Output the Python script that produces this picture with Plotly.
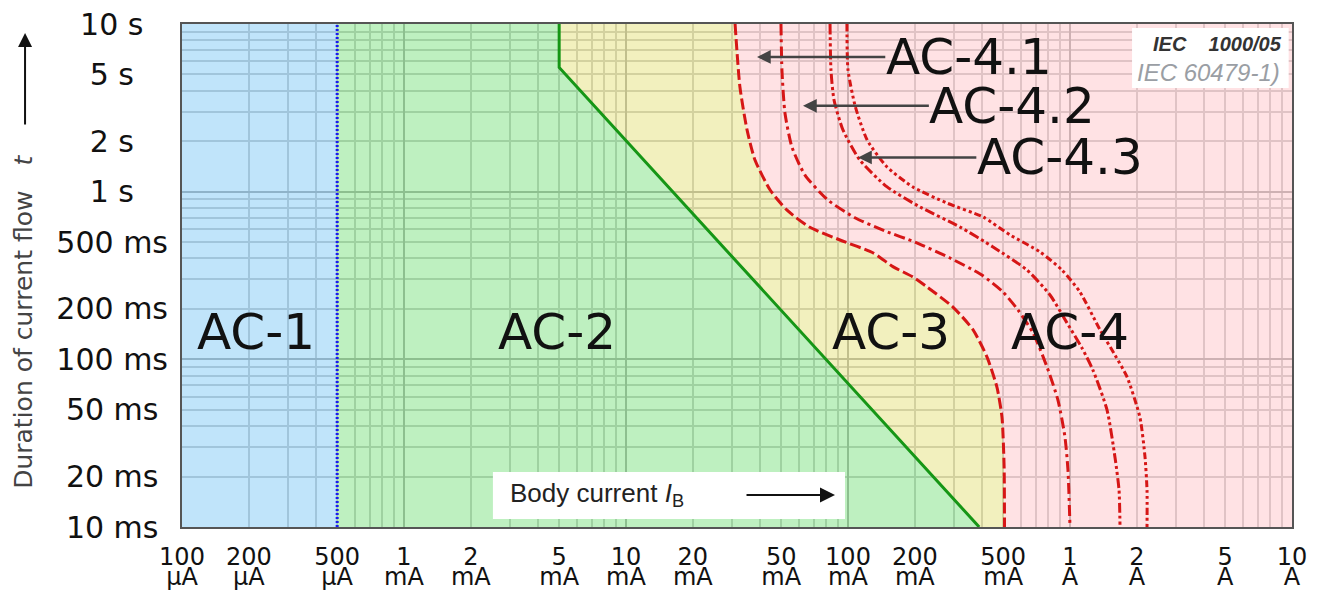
import numpy as np
import plotly.graph_objects as go

# ---------------- data (body current in mA, duration of current flow in ms) -------------
CURRENT_RANGE_MA = [0.1, 10000]
DURATION_RANGE_MS = [10, 10000]

X_TICK_VALUES = [0.1, 0.2, 0.5, 1, 2, 5, 10, 20, 50, 100, 200, 500, 1000, 2000, 5000, 10000]
X_TICK_NUMBERS = ["100", "200", "500", "1", "2", "5", "10", "20", "50", "100", "200", "500",
                  "1", "2", "5", "10"]
X_TICK_UNITS = ["µA", "µA", "µA", "mA", "mA", "mA", "mA", "mA", "mA", "mA", "mA", "mA",
                "A", "A", "A", "A"]
Y_TICK_VALUES = [10, 20, 50, 100, 200, 500, 1000, 2000, 5000, 10000]
Y_TICK_LABELS = ["10 ms", "20 ms", "50 ms", "100 ms", "200 ms", "500 ms", "1 s", "2 s", "5 s", "10 s"]

# boundary a : AC-1 / AC-2
curve_a_ma = [0.5, 0.5]
curve_a_ms = [10, 10000]

# boundary b : AC-2 / AC-3
curve_b_ma = [5, 5, 390]
curve_b_ms = [10000, 5500, 10]

# curve c1 : AC-3 / AC-4
c1_ma = [31, 32.6, 35.1, 38.1, 44.6, 53, 67, 92, 130, 160, 196, 227, 297, 366, 423, 469, 494, 505, 507]
c1_ms = [10000, 4210, 2335, 1545, 1023, 778, 615, 515, 431, 356, 310, 270, 205, 150, 103, 68, 45, 22.8, 10]

# curve c2
c2_ma = [49.9, 50.4, 52, 55.9, 64, 81.2, 108, 147, 200, 288, 401, 499, 583, 681, 788, 883, 949, 979, 1000]
c2_ms = [10000, 5321, 2944, 1845, 1256, 891, 697, 582, 501, 402, 318, 252, 197, 144, 90, 57, 34.4, 21.9, 10]

# curve c3
c3_ma = [83, 83.8, 86.5, 94.9, 113, 150, 211, 320, 450, 640, 813, 969, 1132, 1270, 1468, 1595, 1663, 1680]
c3_ms = [10000, 5321, 3525, 2335, 1545, 1067, 811, 615, 468, 341, 242, 165, 117, 86, 50, 26, 16.6, 10]

# curve c4 (upper limit shown)
c4_ma = [98.9, 100, 108, 122, 150, 196, 279, 406, 537, 733, 920, 1109, 1365, 1595, 1807, 2066, 2178, 2223, 2223]
c4_ms = [10000, 5321, 3199, 2032, 1403, 1067, 855, 706, 552, 437, 341, 252, 150, 106, 78.5, 45, 26, 16.6, 10]

# zone labels
zone_names = ["AC-1", "AC-2", "AC-3", "AC-4"]
zone_label_ma = [0.215, 4.9, 156, 1000]
zone_label_ms = [146, 146, 146, 146]

# AC-4 sub-zone labels with arrows
sub_names = ["AC-4.1", "AC-4.2", "AC-4.3"]
sub_label_ma = [350, 550, 900]
sub_label_ms = [6357, 3250, 1600]
sub_head_ma = [38.9, 62.7, 111]
sub_head_ms = [6357, 3250, 1600]

# ---------------- styling ---------------------------------------------------------------
FONT = "DejaVu Sans"
MINOR_GRID = "rgb(150,150,150)"
MAJOR_GRID = "rgb(90,90,90)"
RED = "rgb(214,22,22)"


def log_grid(lo_exp, hi_exp, skip):
    vals = []
    for e in range(lo_exp, hi_exp):
        for k in range(2, 10):
            v = round(k * 10.0 ** e, 6)
            if v not in skip:
                vals.append(v)
    return vals


x_minor = log_grid(-1, 4, X_TICK_VALUES)
y_minor = log_grid(1, 4, Y_TICK_VALUES)
x_decades = [v for v in X_TICK_VALUES if abs(np.log10(v) - round(np.log10(v))) < 1e-9]
y_decades = [v for v in Y_TICK_VALUES if abs(np.log10(v) - round(np.log10(v))) < 1e-9]


def pad_label(lbl):
    # trailing spaces so right-aligned tick labels appear centred
    if lbl.endswith(" ms"):
        return lbl if len(lbl) == 6 else lbl + "\u00a0"
    return lbl + ("\u2002\u00a0" if len(lbl) == 4 else "\u2007\u2002")


y_tick_text = [pad_label(t) for t in Y_TICK_LABELS]

xr = CURRENT_RANGE_MA
yr = DURATION_RANGE_MS

fig = go.Figure()

# ---- zone fills (semi-transparent so the grid shows through) ----
fig.add_trace(go.Scatter(
    x=[xr[0], curve_a_ma[0], curve_a_ma[1], xr[0]],
    y=[yr[0], curve_a_ms[0], curve_a_ms[1], yr[1]],
    fill="toself", fillcolor="rgba(165,216,248,0.7)", mode="lines", line=dict(width=0),
    hoverinfo="skip", showlegend=False))
fig.add_trace(go.Scatter(
    x=curve_a_ma + curve_b_ma,
    y=curve_a_ms + curve_b_ms,
    fill="toself", fillcolor="rgba(162,234,165,0.7)", mode="lines", line=dict(width=0),
    hoverinfo="skip", showlegend=False))
fig.add_trace(go.Scatter(
    x=curve_b_ma + c1_ma[::-1],
    y=curve_b_ms + c1_ms[::-1],
    fill="toself", fillcolor="rgba(237,234,162,0.7)", mode="lines", line=dict(width=0),
    hoverinfo="skip", showlegend=False))
fig.add_trace(go.Scatter(
    x=c1_ma + [xr[1], xr[1]],
    y=c1_ms + [yr[0], yr[1]],
    fill="toself", fillcolor="rgba(255,213,216,0.7)", mode="lines", line=dict(width=0),
    hoverinfo="skip", showlegend=False))

# ---- boundary lines ----
fig.add_trace(go.Scatter(x=curve_a_ma, y=curve_a_ms, mode="lines",
                         line=dict(color="rgb(25,25,240)", width=3, dash="2px,2px"),
                         hoverinfo="skip", showlegend=False))
fig.add_trace(go.Scatter(x=curve_b_ma, y=curve_b_ms, mode="lines",
                         line=dict(color="rgb(22,150,22)", width=3),
                         hoverinfo="skip", showlegend=False))
for cx, cy, dash in [(c1_ma, c1_ms, "11px,4px"),
                     (c2_ma, c2_ms, "11px,4px,3px,4px"),
                     (c3_ma, c3_ms, "10px,3px,3px,3px,3px,3px"),
                     (c4_ma, c4_ms, "7px,3px,3px,3px,3px,3px,3px,3px")]:
    fig.add_trace(go.Scatter(x=cx, y=cy, mode="lines",
                             line=dict(color=RED, width=3, dash=dash, shape="spline", smoothing=0.6),
                             hoverinfo="skip", showlegend=False))

# dummy traces so the overlay axes (units row and decade grid) are drawn
fig.add_trace(go.Scatter(x=[None], y=[None], xaxis="x2", yaxis="y", showlegend=False, hoverinfo="skip"))
fig.add_trace(go.Scatter(x=[None], y=[None], xaxis="x3", yaxis="y2", showlegend=False, hoverinfo="skip"))

annotations = []
for name, mx, my in zip(zone_names, zone_label_ma, zone_label_ms):
    annotations.append(dict(text=name, x=np.log10(mx), y=np.log10(my), xref="x", yref="y",
                            showarrow=False, font=dict(family=FONT, size=50, color="#111")))
for name, lx, ly, hx, hy in zip(sub_names, sub_label_ma, sub_label_ms, sub_head_ma, sub_head_ms):
    annotations.append(dict(text=name, x=np.log10(hx), y=np.log10(hy), xref="x", yref="y",
                            ax=np.log10(lx), ay=np.log10(ly), axref="x", ayref="y",
                            showarrow=True, arrowhead=2, arrowsize=1.1, arrowwidth=2.5,
                            arrowcolor="#444", standoff=0, borderpad=0,
                            font=dict(family=FONT, size=50, color="#111")))

# y axis title with arrow
annotations.append(dict(text="Duration of current flow\u2003<i>t</i>", xref="paper", yref="paper",
                        x=-0.1423, y=0.408, textangle=-90, showarrow=False,
                        xanchor="center", yanchor="middle",
                        font=dict(family=FONT, size=25, color="#444")))
annotations.append(dict(text="", xref="paper", yref="paper", x=-0.1414, y=0.982,
                        ax=0, ay=93, axref="pixel", ayref="pixel", showarrow=True,
                        arrowhead=2, arrowsize=1.4, arrowwidth=2, arrowcolor="#111", standoff=0))

# body current label
annotations.append(dict(text="Body current <i>I</i><sub>B</sub>", xref="paper", yref="paper",
                        x=0.2937, y=0.0656, xanchor="left", yanchor="middle", showarrow=False,
                        font=dict(family="Liberation Sans", size=26, color="#222")))
annotations.append(dict(text="", xref="paper", yref="paper", x=0.5883, y=0.0636,
                        ax=-90, ay=0, axref="pixel", ayref="pixel", showarrow=True,
                        arrowhead=2, arrowsize=1.5, arrowwidth=2, arrowcolor="#111", standoff=0))

# IEC notice
annotations.append(dict(text="<b><i>IEC\u00a0\u00a0\u00a0\u00a01000/05</i></b>", xref="paper", yref="paper",
                        x=0.9928, y=0.960, xanchor="right", yanchor="middle", showarrow=False,
                        font=dict(family="Liberation Sans", size=20, color="#333")))
annotations.append(dict(text="<i>IEC 60479-1)</i>", xref="paper", yref="paper",
                        x=0.8586, y=0.9026, xanchor="left", yanchor="middle", showarrow=False,
                        font=dict(family="Liberation Sans", size=24, color="#9a9ea4")))

shapes = [
    dict(type="rect", xref="paper", yref="paper", x0=0.2801, x1=0.5973, y0=0.0159, y1=0.1093,
         fillcolor="white", line=dict(width=0), layer="above"),
    dict(type="rect", xref="paper", yref="paper", x0=0.8559, x1=0.997, y0=0.8728, y1=0.992,
         fillcolor="white", line=dict(width=0), layer="above"),
]

lx0, lx1 = np.log10(xr[0]), np.log10(xr[1])
ly0, ly1 = np.log10(yr[0]), np.log10(yr[1])

fig.update_layout(
    width=1323, height=591,
    margin=dict(l=182, r=31, t=24, b=64, autoexpand=False),
    paper_bgcolor="white", plot_bgcolor="white",
    showlegend=False,
    annotations=annotations,
    shapes=shapes,
    xaxis=dict(type="log", range=[lx0, lx1], autorange=False, automargin=False,
               tickmode="array", tickvals=X_TICK_VALUES, ticktext=X_TICK_NUMBERS,
               tickfont=dict(family=FONT, size=24, color="#111"), ticks="", ticklabelstandoff=7,
               showgrid=True, gridcolor=MINOR_GRID, gridwidth=1.5,
               minor=dict(tickmode="array", tickvals=x_minor, showgrid=True,
                          gridcolor=MINOR_GRID, gridwidth=1.5, ticks=""),
               showline=True, mirror=True, linecolor="#555", linewidth=2, zeroline=False),
    xaxis2=dict(type="log", range=[lx0, lx1], autorange=False, automargin=False,
                overlaying="x", anchor="y", side="bottom",
                tickmode="array", tickvals=X_TICK_VALUES, ticktext=X_TICK_UNITS,
                tickfont=dict(family=FONT, size=24, color="#111"), ticks="", ticklabelstandoff=33,
                showgrid=False, showline=False, zeroline=False),
    xaxis3=dict(type="log", range=[lx0, lx1], autorange=False, automargin=False,
                overlaying="x", anchor="y", side="bottom",
                tickmode="array", tickvals=x_decades, showticklabels=False, ticks="",
                showgrid=True, gridcolor=MAJOR_GRID, gridwidth=2, showline=False, zeroline=False),
    yaxis=dict(type="log", range=[ly0, ly1], autorange=False, automargin=False,
               tickmode="array", tickvals=Y_TICK_VALUES, ticktext=y_tick_text,
               tickfont=dict(family=FONT, size=30, color="#111"), ticks="", ticklabelstandoff=6,
               showgrid=True, gridcolor=MINOR_GRID, gridwidth=1.5,
               minor=dict(tickmode="array", tickvals=y_minor, showgrid=True,
                          gridcolor=MINOR_GRID, gridwidth=1.5, ticks=""),
               showline=True, mirror=True, linecolor="#555", linewidth=2, zeroline=False),
    yaxis2=dict(type="log", range=[ly0, ly1], autorange=False, automargin=False,
                overlaying="y", anchor="x", side="left",
                tickmode="array", tickvals=y_decades, showticklabels=False, ticks="",
                showgrid=True, gridcolor=MAJOR_GRID, gridwidth=2, showline=False, zeroline=False),
)

fig.write_html("out.html", config={"displayModeBar": False},
               post_script="document.body.style.margin='0';document.body.style.overflow='hidden';")
